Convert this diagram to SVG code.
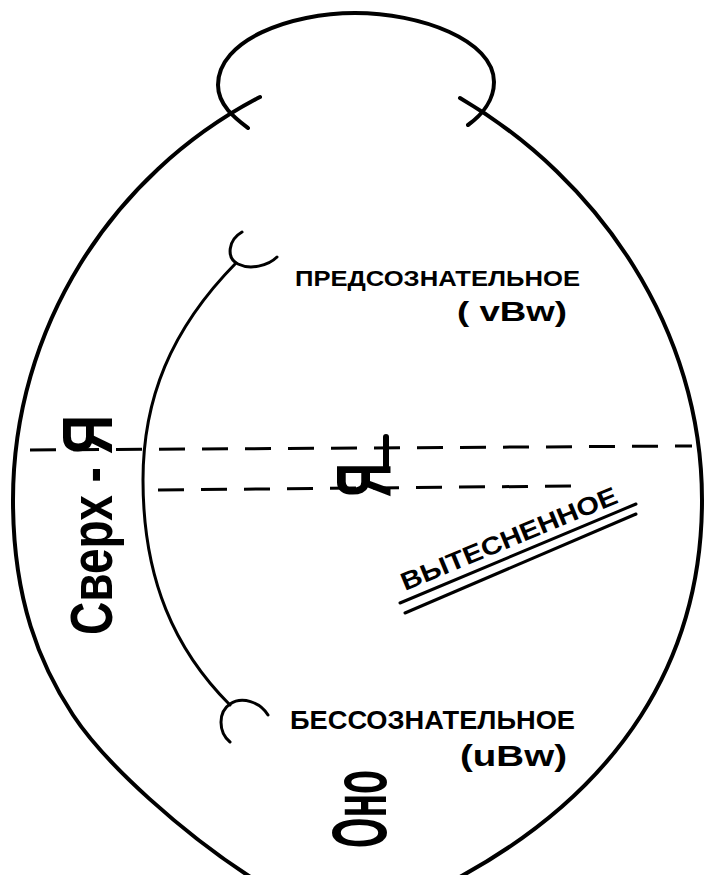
<svg xmlns="http://www.w3.org/2000/svg" width="704" height="875" viewBox="0 0 704 875">
<style>
.ln{fill:none;stroke:#000;stroke-linecap:round;stroke-linejoin:round}
.outer{stroke-width:4}
.inner{stroke-width:3}
.dash{stroke-width:3;stroke-dasharray:26 17;stroke-linecap:butt}
.lbl{font-family:"Liberation Sans","DejaVu Sans",sans-serif;font-weight:bold;fill:#000}
</style>
<rect width="704" height="875" fill="#fff"/>
<g id="outline">
<path class="ln outer" d="M260,97 C110,175 13,330 13,500 C13,600 40,665 73,715 C106,765 185,835 252,878"/>
<path class="ln outer" d="M460,98 C600,180 702,330 702,500 C702,660 620,790 458,878"/>
<path class="ln outer" d="M248,128 C235,118 218,105 218,85 C218,40 290,13 355,13 C420,13 494,40 494,82 C494,100 482,115 468,125"/>
</g>
<g id="inner-arc">
<path class="ln inner" d="M236,263 C170,330 143,400 143,480 C143,580 175,650 230,705"/>
<path class="ln inner" d="M242,232 C228,240 226,258 238,264 C250,270 268,266 277,257"/>
<path class="ln inner" d="M230,742 C218,732 218,712 230,704 C242,696 260,702 268,715"/>
</g>
<g id="dashes">
<line class="ln dash" x1="30" y1="450" x2="692" y2="446"/>
<line class="ln dash" x1="158" y1="490" x2="575" y2="486"/>
<line class="ln" stroke-width="6" x1="386" y1="437" x2="386" y2="466"/>
</g>
<g id="superego">
<text class="lbl" transform="translate(112,635) rotate(-90)" font-size="59" textLength="220" lengthAdjust="spacingAndGlyphs">Сверх - <tspan font-size="70">Я</tspan></text>
</g>
<g id="ego">
<text class="lbl" transform="translate(390,497) rotate(-90)" font-size="78" textLength="34" lengthAdjust="spacingAndGlyphs">Я</text>
</g>
<g id="id">
<text class="lbl" transform="translate(386,848) rotate(-90)" font-size="78" textLength="78" lengthAdjust="spacingAndGlyphs">Оно</text>
</g>
<g id="preconscious">
<text class="lbl" x="295" y="286" font-size="22" textLength="285" lengthAdjust="spacingAndGlyphs">ПРЕДСОЗНАТЕЛЬНОЕ</text>
<text class="lbl" x="457" y="321" font-size="28" textLength="110" lengthAdjust="spacingAndGlyphs">( vBw)</text>
</g>
<g id="unconscious">
<text class="lbl" x="290" y="729" font-size="25" textLength="285" lengthAdjust="spacingAndGlyphs">БЕССОЗНАТЕЛЬНОЕ</text>
<text class="lbl" x="460" y="766" font-size="30" textLength="107" lengthAdjust="spacingAndGlyphs">(uBw)</text>
</g>
<g id="repressed">
<text class="lbl" transform="translate(405,591) rotate(-22.5)" font-size="25" textLength="232" lengthAdjust="spacingAndGlyphs">ВЫТЕСНЕННОЕ</text>
<line class="ln" stroke-width="3" x1="400" y1="603" x2="636" y2="504"/>
<line class="ln" stroke-width="3" x1="405" y1="613" x2="636" y2="514"/>
</g>
</svg>
